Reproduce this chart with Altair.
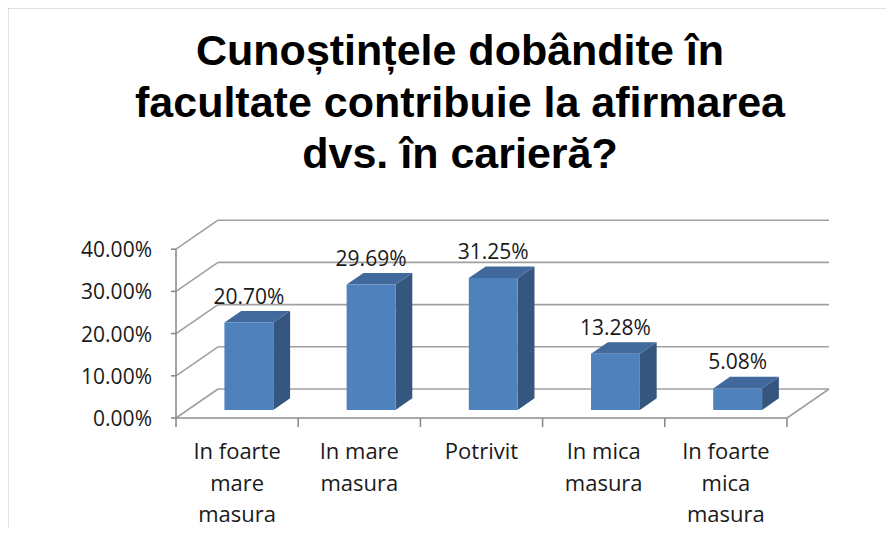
import altair as alt
import pandas as pd

# ---------------- data ----------------
categories = ["In foarte\nmare\nmasura", "In mare\nmasura", "Potrivit",
              "In mica\nmasura", "In foarte\nmica\nmasura"]
values = [0.2070, 0.2969, 0.3125, 0.1328, 0.0508]
value_labels = ["20.70%", "29.69%", "31.25%", "13.28%", "5.08%"]
y_ticks = [0.0, 0.1, 0.2, 0.3, 0.4]
y_tick_labels = ["0.00%", "10.00%", "20.00%", "30.00%", "40.00%"]
title_text = "Cunoștințele dobândite în\nfacultate contribuie la afirmarea\ndvs. în carieră?"

# ---------------- geometry (data units) ----------------
W, H = 878, 520
X_DOMAIN = [-1.3748, 5.8102]      # category units
Y_DOMAIN = [-0.26066, 0.97156]    # share units
DEPTH_X, DEPTH_Y = 0.3437, 0.0687  # 3-D depth of the floor
T0, T1 = 0.28, 0.68                # bar front / back depth fraction
BAR_W = 0.40
N = len(categories)

FRONT = "#4F81BD"
TOP = "#41699B"
SIDE = "#35577F"
GRID = "#A0A0A0"
AXIS = "#8C8C8C"


def X(f):
    return alt.X(f, type="quantitative", axis=None, stack=None,
                 scale=alt.Scale(domain=X_DOMAIN, nice=False, zero=False))


def Y(f):
    return alt.Y(f, type="quantitative", axis=None, stack=None,
                 scale=alt.Scale(domain=Y_DOMAIN, nice=False, zero=False))


# bars
bars = []
side_rows, top_rows = [], []
for i, (v, lab) in enumerate(zip(values, value_labels)):
    c = i + 0.5 + T0 * DEPTH_X
    base = T0 * DEPTH_Y
    x0, x1 = c - BAR_W / 2, c + BAR_W / 2
    ddx, ddy = (T1 - T0) * DEPTH_X, (T1 - T0) * DEPTH_Y
    bars.append(dict(bar=i, c=c, x0=x0, x1=x1, base=base, top=base + v, label=lab))
    side_rows += [dict(bar=i, x=x1, lo=base, hi=base + v),
                  dict(bar=i, x=x1 + ddx, lo=base + ddy, hi=base + v + ddy)]
    top_rows += [dict(bar=i, y=base + v, xl=x0, xr=x1),
                 dict(bar=i, y=base + v + ddy, xl=x0 + ddx, xr=x1 + ddx)]
bars_df = pd.DataFrame(bars)
side_df = pd.DataFrame(side_rows)
top_df = pd.DataFrame(top_rows)

grid_df = pd.DataFrame({
    "g": y_ticks,
    "gb": [g + DEPTH_Y for g in y_ticks],
    "xb0": [DEPTH_X] * len(y_ticks),
    "xb1": [N + DEPTH_X] * len(y_ticks),
    "zero": [0.0] * len(y_ticks),
    "label": y_tick_labels,
})
xtick_df = pd.DataFrame({"x": list(range(N + 1)), "y": [0.0] * (N + 1)})
cat_df = pd.DataFrame({"x": [i + 0.5 for i in range(N)], "y": [0.0] * N, "label": categories})
floor_df = pd.DataFrame({"x": [0.0], "x2": [float(N)], "xr": [N + DEPTH_X],
                         "y": [0.0], "yr": [DEPTH_Y], "ytop": [max(y_ticks)]})

# ---------------- layers ----------------
back_grid = alt.Chart(grid_df).mark_rule(color=GRID, strokeWidth=1.6).encode(
    x=X("xb0"), x2="xb1", y=Y("gb"))
wall_grid = alt.Chart(grid_df).mark_rule(color=GRID, strokeWidth=1.6).encode(
    x=X("zero"), x2="xb0", y=Y("g"), y2="gb")
floor_right = alt.Chart(floor_df).mark_rule(color=GRID, strokeWidth=1.6).encode(
    x=X("x2"), x2="xr", y=Y("y"), y2="yr")
x_axis = alt.Chart(floor_df).mark_rule(color=AXIS, strokeWidth=1.6).encode(
    x=X("x"), x2="x2", y=Y("y"))
y_axis = alt.Chart(floor_df).mark_rule(color=AXIS, strokeWidth=1.6).encode(
    x=X("x"), y=Y("y"), y2="ytop")
y_tick = alt.Chart(grid_df).mark_rule(color=AXIS, strokeWidth=1.6, x2Offset=-5).encode(
    x=X("zero"), x2="zero", y=Y("g"))
x_tick = alt.Chart(xtick_df).mark_rule(color=AXIS, strokeWidth=1.6, y2Offset=9).encode(
    x=X("x"), y=Y("y"), y2="y")

y_labels = alt.Chart(grid_df).mark_text(
    align="right", baseline="middle", dx=-24, dy=2, font="Open Sans",
    fontSize=21, color="#1A1A1A").encode(x=X("zero"), y=Y("g"), text="label")
cat_labels = alt.Chart(cat_df).mark_text(
    align="center", baseline="alphabetic", dy=41, lineBreak="\n", lineHeight=31.5,
    font="Open Sans", fontSize=22, color="#1A1A1A").encode(x=X("x"), y=Y("y"), text="label")

side = alt.Chart(side_df).mark_area(orient="vertical", color=SIDE).encode(
    x=X("x"), y=Y("hi"), y2="lo", detail="bar:N")
top = alt.Chart(top_df).mark_area(orient="horizontal", color=TOP).encode(
    y=Y("y"), x=X("xl"), x2="xr", detail="bar:N")
front = alt.Chart(bars_df).mark_rect(color=FRONT).encode(
    x=X("x0"), x2="x1", y=Y("base"), y2="top")
val_labels = alt.Chart(bars_df).mark_text(
    align="center", baseline="middle", dy=-25, font="Open Sans", fontSize=21,
    color="#1A1A1A").encode(x=X("c"), y=Y("top"), text="label")

title = alt.Chart(pd.DataFrame({"t": [title_text]})).mark_text(
    align="center", baseline="alphabetic", lineBreak="\n", lineHeight=51.5,
    font="Liberation Sans", fontWeight="bold", fontSize=43, color="#000000").encode(
    x=alt.value(452), y=alt.value(57), text="t")

frame_top = alt.Chart(floor_df).mark_rule(color="#8A8A8A", strokeWidth=2.5).encode(
    x=alt.value(0), x2=alt.value(W), y=alt.value(-1))
frame_left = alt.Chart(floor_df).mark_rule(color="#8A8A8A", strokeWidth=2.5).encode(
    x=alt.value(-1), y=alt.value(-1), y2=alt.value(H))

chart = alt.layer(
    frame_top, frame_left,
    back_grid, wall_grid, floor_right, x_axis, y_axis, y_tick, x_tick,
    side, top, front,
    y_labels, cat_labels, val_labels, title,
).properties(
    width=W, height=H, autosize="none", padding=0, background="white"
).configure_view(stroke=None)

chart.save("out.html", embed_options={"renderer": "svg", "actions": False})
